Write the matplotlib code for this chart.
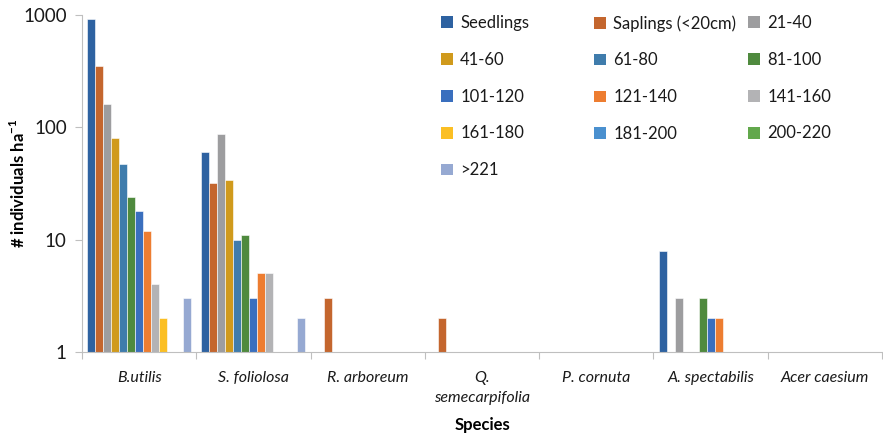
import numpy as np
import matplotlib
matplotlib.use('Agg')
import matplotlib.pyplot as plt
from matplotlib.patches import Patch

plt.rcParams['font.family'] = ['Lato', 'DejaVu Sans']
plt.rcParams['mathtext.fontset'] = 'custom'
plt.rcParams['mathtext.bf'] = 'Lato:bold'
plt.rcParams['mathtext.rm'] = 'Lato'

species = ['B.utilis', 'S. foliolosa', 'R. arboreum', 'Q.\nsemecarpifolia',
           'P. cornuta', 'A. spectabilis', 'Acer caesium']
classes = ['Seedlings', 'Saplings (<20cm)', '21-40', '41-60', '61-80', '81-100',
           '101-120', '121-140', '141-160', '161-180', '181-200', '200-220', '>221']

# rows = species, columns = size classes (0 = no individuals)
b_utilis = [920, 350, 160, 80, 47, 24, 18, 12, 4, 2, 0, 0, 3]
s_foliolosa = [60, 32, 88, 34, 10, 11, 3, 5, 5, 0, 0, 0, 2]
r_arboreum = [0, 3, 0, 0, 0, 0, 0, 0, 0, 0, 0, 0, 0]
q_semecarpifolia = [0, 2, 0, 0, 0, 0, 0, 0, 0, 0, 0, 0, 0]
p_cornuta = [0, 0, 0, 0, 0, 0, 0, 0, 0, 0, 0, 0, 0]
a_spectabilis = [8, 0, 3, 0, 0, 3, 2, 2, 0, 0, 0, 0, 0]
acer_caesium = [0, 0, 0, 0, 0, 0, 0, 0, 0, 0, 0, 0, 0]

colors = ['#2E62A1', '#C4662E', '#9D9D9F', '#D09A1C', '#3F7CAC', '#4F8A3E',
          '#3A6FBE', '#ED7D31', '#B3B3B5', '#FBBF24', '#4A90CF', '#62A84C', '#96A9D2']

data = np.array([b_utilis, s_foliolosa, r_arboreum, q_semecarpifolia,
                 p_cornuta, a_spectabilis, acer_caesium], dtype=float)

fig = plt.figure(figsize=(8.83, 4.38), dpi=100)
ax = fig.add_axes([82/883, 1-352/438, 800/883, 337/438])

n = len(classes)
gap = 0.09
w = (1 - gap) / n
x = np.arange(len(species))
for j in range(n):
    vals = data[:, j]
    mask = vals > 0
    ax.bar(x[mask] - 0.5 + gap/2 + w*j, vals[mask], width=w,
           align='edge', color=colors[j], edgecolor='white', linewidth=0.4)

ax.set_yscale('log')
ax.set_ylim(1, 1000)
ax.set_xlim(-0.5, len(species) - 0.5)
ax.set_yticks([1, 10, 100, 1000])
ax.set_yticklabels(['1', '10', '100', '1000'], fontsize=13.5, color='#1a1a1a')
ax.yaxis.set_minor_locator(matplotlib.ticker.NullLocator())

ax.set_xticks(np.arange(len(species) + 1) - 0.5, minor=False)
ax.set_xticklabels([])
ax.set_xticks(x, minor=True)
ax.set_xticklabels(species, minor=True, fontsize=11.5, style='italic', color='#1a1a1a',
                   linespacing=1.5)
ax.tick_params(axis='x', which='minor', length=0, pad=14)
ax.tick_params(axis='x', which='major', length=5, color='#BFBFBF', direction='out')
ax.tick_params(axis='y', length=5, color='#BFBFBF', direction='out', pad=6)

for s in ['top', 'right']:
    ax.spines[s].set_visible(False)
for s in ['left', 'bottom']:
    ax.spines[s].set_color('#BFBFBF')

ax.set_ylabel(r'# individuals ha$^{\mathbf{-1}}$', fontsize=12, fontweight='bold')
ax.yaxis.set_label_coords(-64/800, 0.5)
ax.set_xlabel('Species', fontsize=12, fontweight='bold')
ax.xaxis.set_label_coords(0.5, -73/337)
ax.xaxis.label.set_va('center')
ax.yaxis.label.set_va('center')

# legend laid out row-wise in three columns
handles = [Patch(facecolor=c, edgecolor='none') for c in colors]
col_x = [441/883, 594/883, 748/883]
for k in range(3):
    idx = list(range(k, n, 3))
    leg = fig.legend([handles[i] for i in idx], [classes[i] for i in idx],
                     loc='upper left', bbox_to_anchor=(col_x[k], 1 - 15/438),
                     frameon=False, fontsize=12, handlelength=0.7, handleheight=0.7,
                     handletextpad=0.45, labelspacing=1.25, borderpad=0, borderaxespad=0,
                     labelcolor='#1a1a1a')

fig.savefig('out.png', dpi=100)
